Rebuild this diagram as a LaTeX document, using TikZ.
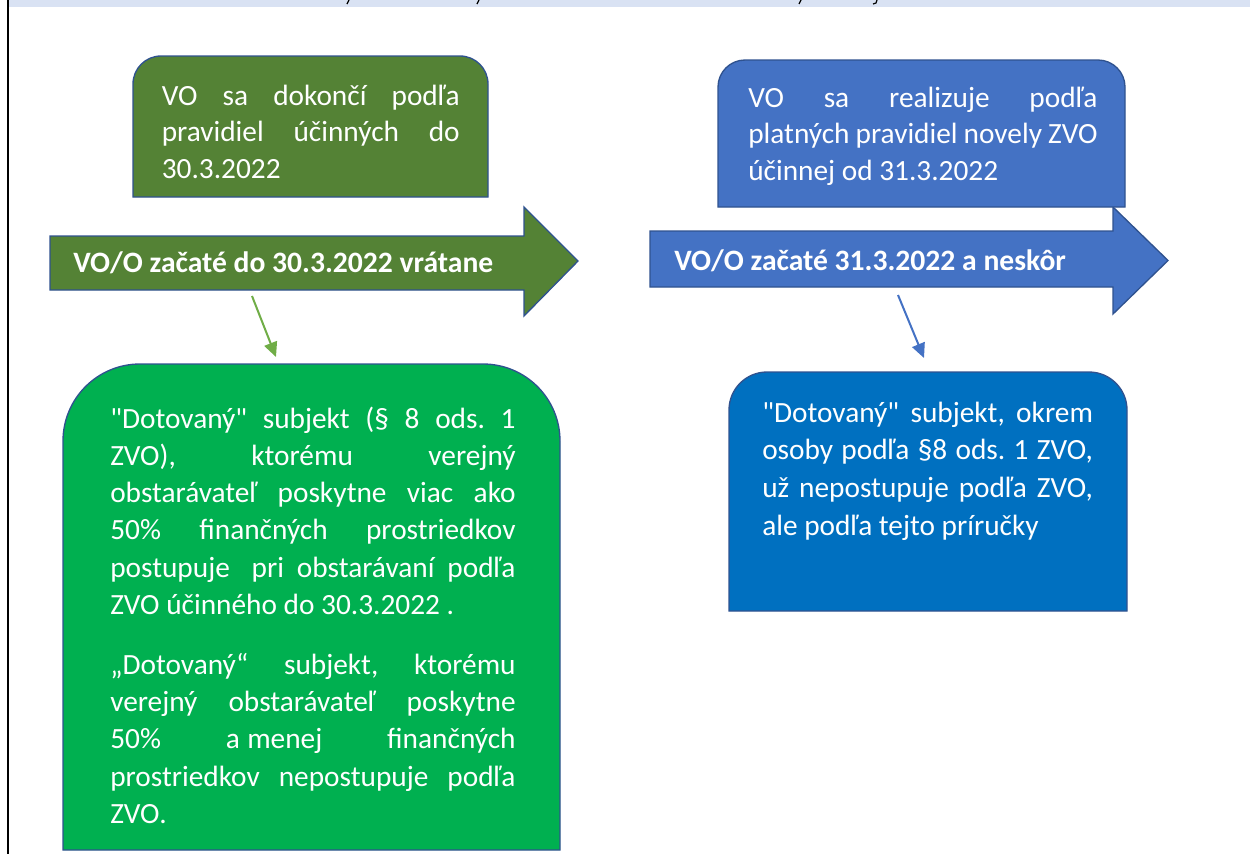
\documentclass[tikz,border=0pt]{standalone}
\usepackage{fontspec}
\newfontfamily\calib{Carlito}
\usetikzlibrary{arrows.meta}
\definecolor{bandc}{HTML}{D9E2F3}
\definecolor{dgreen}{HTML}{548235}
\definecolor{edgec}{HTML}{2F528F}
\definecolor{mblue}{HTML}{4472C4}
\definecolor{bgreen}{HTML}{00B050}
\definecolor{dblue}{HTML}{0070C0}
\definecolor{lgreen}{HTML}{70AD47}
\newcommand{\jline}[1]{\makebox[\linewidth][s]{#1}}
\frenchspacing
\begin{document}
\begin{tikzpicture}[x=0.75pt,y=0.75pt,
  shapebox/.style={draw=edgec,line width=1pt},
  txt/.style={anchor=base west,inner sep=0pt,text=white,font=\calib\fontsize{22}{28}\selectfont},
  arrtxt/.style={anchor=base west,inner sep=0pt,text=white,font=\calib\bfseries\fontsize{22.2}{26}\selectfont},
  conn/.style={line width=1.5pt,-{Triangle[length=11pt,width=10pt]}}]
\useasboundingbox (0,0) rectangle (1250,-854);
% top band and left rule
\fill[bandc] (9,0) rectangle (1250,-7);
\draw[line width=1.5pt] (8.3,0) -- (8.3,-854);
\draw[line width=0.9pt] (349,0) -- (347,-4);
\draw[line width=0.9pt] (479,0) -- (477,-4);
\draw[line width=0.9pt] (801,0) -- (799,-4);
\draw[line width=0.9pt] (877,0) -- (876,-3) -- (873,-4);
% arrows
\draw[shapebox,fill=dgreen] (50,-236) -- (524,-236) -- (524,-207) -- (578,-261) -- (524,-316) -- (524,-290) -- (50,-290) -- cycle;
\draw[shapebox,fill=mblue] (650,-231) -- (1113,-231) -- (1113,-207) -- (1168,-260.5) -- (1113,-314) -- (1113,-287) -- (650,-287) -- cycle;
\node[arrtxt] (la) at (73,-272) {VO/O začaté do 30.3.2022 vrátane};
\node[arrtxt] (ra) at (674,-270) {VO/O začaté 31.3.2022 a neskôr};
% top boxes
\draw[shapebox,fill=dgreen] (133,-197) -- (133,-84) arc[start angle=180,end angle=90,radius=28] -- (460,-56) arc[start angle=90,end angle=0,radius=28] -- (488,-197) -- cycle;
\node[txt] (tl) at (161.5,-105) {\parbox[t]{223.5pt}{\fontsize{22}{27.5}\selectfont\jline{VO sa dokončí podľa}\\\jline{pravidiel účinných do}\\30.3.2022}};
\draw[shapebox,fill=mblue] (718,-207) -- (718,-87) arc[start angle=180,end angle=90,radius=27] -- (1098,-60) arc[start angle=90,end angle=0,radius=27] -- (1125,-207) -- cycle;
\node[txt] (tr) at (748,-107) {\parbox[t]{262pt}{\fontsize{22}{27.4}\selectfont\jline{VO sa realizuje podľa}\\\jline{platných pravidiel novely ZVO}\\účinnej od 31.3.2022}};
% bottom boxes
\draw[shapebox,fill=bgreen] (63,-850) -- (63,-441) arc[start angle=180,end angle=90,radius=77] -- (483,-364) arc[start angle=90,end angle=0,radius=77] -- (560,-850) -- cycle;
\node[txt] (bl) at (110,-428) {\parbox[t]{304pt}{\fontsize{22}{27.95}\selectfont
\jline{"Dotovaný" subjekt (§ 8 ods. 1}\\
\jline{ZVO), ktorému verejný}\\
\jline{obstarávateľ poskytne viac ako}\\
\jline{50\% finančných prostriedkov}\\
\jline{postupuje\hspace{0.3em} pri obstarávaní podľa}\\
ZVO účinného do 30.3.2022 .\\[17pt]
\jline{„Dotovaný“ subjekt, ktorému}\\
\jline{verejný obstarávateľ poskytne}\\
\jline{50\% a\hspace{0.25em}menej finančných}\\
\jline{prostriedkov nepostupuje podľa}\\
ZVO.}};
\draw[shapebox,fill=dblue] (729,-611) -- (729,-410) arc[start angle=180,end angle=90,radius=38] -- (1089,-372) arc[start angle=90,end angle=0,radius=38] -- (1127,-611) -- cycle;
\node[txt] (br) at (762,-422) {\parbox[t]{248pt}{\fontsize{22}{28.4}\selectfont
\jline{"Dotovaný" subjekt, okrem}\\
\jline{osoby podľa §8 ods. 1 ZVO,}\\
\jline{už nepostupuje podľa ZVO,}\\
ale podľa tejto príručky}};
% connectors
\coordinate (gs) at (252,-296);
\coordinate (ge) at (276,-357);
\coordinate (bs) at (898,-295);
\coordinate (be) at (924,-358);
\draw[conn,lgreen] (gs) -- (ge);
\draw[conn,mblue] (bs) -- (be);
\end{tikzpicture}
\end{document}
